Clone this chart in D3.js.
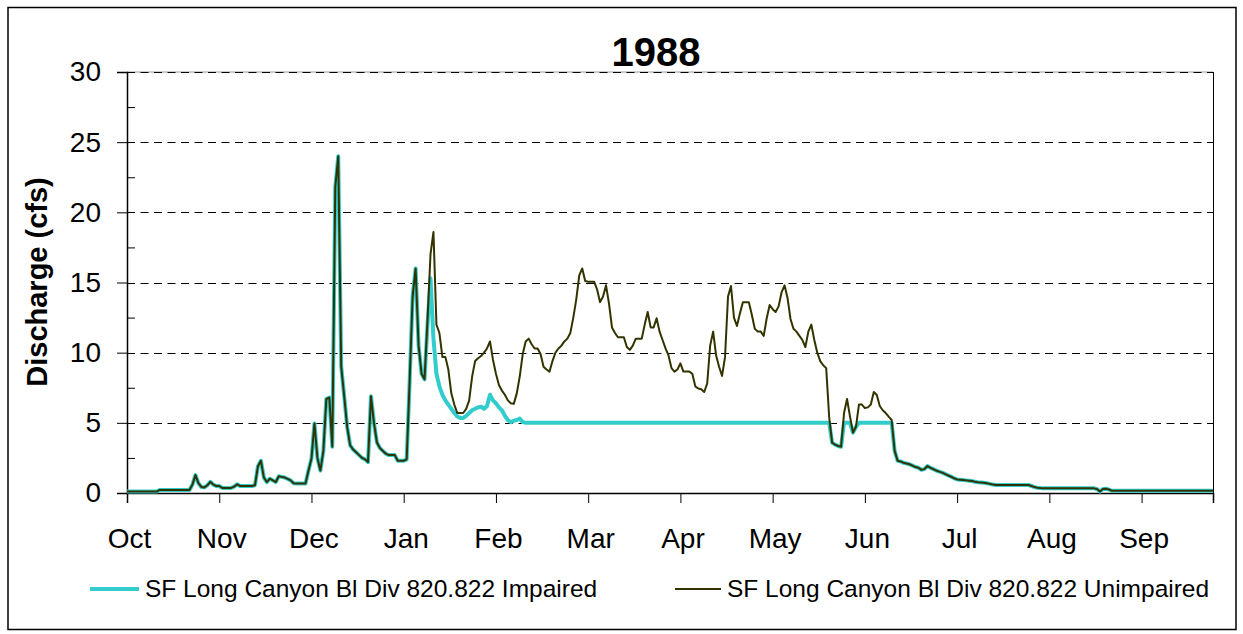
<!DOCTYPE html>
<html>
<head>
<meta charset="utf-8">
<script src="https://cdn.jsdelivr.net/npm/d3@7"></script>
<style>
  html, body { margin: 0; padding: 0; background: #ffffff; }
  svg { display: block; font-family: "Liberation Sans", Arial, sans-serif; }
</style>
</head>
<body>
<svg id="chart" width="1243" height="634"></svg>
<script>
// Daily discharge (cfs), water year Oct 1987 - Sep 1988 (366 days)
const unimpaired = [
  0.1,0.1,0.1,0.1,0.1,0.1,0.1,0.1,0.1,0.1,
  0.1,0.22,0.22,0.22,0.22,0.22,0.22,0.22,0.22,0.22,
  0.22,0.22,0.6,1.28,0.7,0.43,0.4,0.55,0.8,0.6,
  0.5,0.5,0.36,0.36,0.36,0.36,0.45,0.62,0.5,0.5,
  0.5,0.5,0.5,0.55,1.9,2.3,1.1,0.78,1.02,0.9,
  0.78,1.19,1.15,1.1,1.0,0.9,0.7,0.67,0.67,0.67,
  0.67,1.6,2.45,4.95,2.5,1.6,3.0,6.7,6.8,3.3,
  21.8,24.0,9.0,6.9,4.7,3.4,3.1,2.9,2.7,2.5,
  2.4,2.2,6.9,5.0,3.6,3.2,3.0,2.8,2.7,2.7,
  2.7,2.3,2.3,2.3,2.4,8.0,14.0,16.0,10.5,8.5,
  8.1,12.3,17.0,18.6,12.0,11.4,9.7,9.7,8.8,7.1,
  6.3,5.7,5.7,5.7,6.0,6.6,8.3,9.4,9.6,9.76,
  10.0,10.3,10.8,9.5,8.5,7.7,7.3,7.0,6.6,6.4,
  6.35,7.1,8.3,9.9,10.8,11.0,10.6,10.3,10.3,9.9,
  9.0,8.8,8.65,9.4,10.0,10.3,10.5,10.8,11.0,11.4,
  12.5,13.8,15.5,16.0,15.1,15.06,15.06,15.06,14.5,13.6,
  14.0,14.8,13.5,11.8,11.4,11.1,11.1,11.1,10.4,10.2,
  10.5,11.0,11.0,11.0,12.0,12.9,11.8,11.8,12.45,11.5,
  10.9,10.3,9.8,8.9,8.65,8.8,9.24,8.65,8.65,8.65,
  8.5,7.6,7.45,7.4,7.2,7.8,10.5,11.5,9.8,9.0,
  8.34,9.7,14.0,14.75,12.5,11.9,12.8,13.6,13.6,13.6,
  12.7,11.7,11.5,11.5,11.2,12.45,13.4,13.1,12.9,13.3,
  14.3,14.8,13.9,12.4,11.7,11.5,11.2,10.9,10.4,11.5,
  12.0,10.9,10.0,9.4,9.1,8.9,5.4,3.58,3.45,3.35,
  3.3,5.7,6.7,5.44,4.3,4.72,6.3,6.3,6.05,6.1,
  6.3,7.2,6.98,6.2,5.9,5.7,5.44,5.2,3.0,2.3,
  2.25,2.15,2.1,2.05,1.95,1.85,1.8,1.65,1.7,1.92,
  1.8,1.7,1.6,1.52,1.45,1.35,1.25,1.16,1.05,0.97,
  0.95,0.93,0.9,0.88,0.85,0.8,0.77,0.75,0.73,0.7,
  0.65,0.6,0.57,0.57,0.57,0.57,0.57,0.57,0.57,0.57,
  0.57,0.57,0.57,0.57,0.5,0.42,0.38,0.35,0.33,0.33,
  0.33,0.33,0.33,0.33,0.33,0.33,0.33,0.33,0.33,0.33,
  0.33,0.33,0.33,0.33,0.33,0.33,0.28,0.1,0.28,0.3,
  0.25,0.16,0.16,0.16,0.16,0.16,0.16,0.16,0.16,0.16,
  0.16,0.16,0.16,0.16,0.16,0.16,0.16,0.16,0.16,0.16,
  0.16,0.16,0.16,0.16,0.16,0.16,0.16,0.16,0.16,0.16,
  0.16,0.16,0.16,0.16,0.16,0.16
];

const impaired = [
  0.1,0.1,0.1,0.1,0.1,0.1,0.1,0.1,0.1,0.1,
  0.1,0.22,0.22,0.22,0.22,0.22,0.22,0.22,0.22,0.22,
  0.22,0.22,0.6,1.28,0.7,0.43,0.4,0.55,0.8,0.6,
  0.5,0.5,0.36,0.36,0.36,0.36,0.45,0.62,0.5,0.5,
  0.5,0.5,0.5,0.55,1.9,2.3,1.1,0.78,1.02,0.9,
  0.78,1.19,1.15,1.1,1.0,0.9,0.7,0.67,0.67,0.67,
  0.67,1.6,2.45,4.95,2.5,1.6,3.0,6.7,6.8,3.3,
  21.8,24.0,9.0,6.9,4.7,3.4,3.1,2.9,2.7,2.5,
  2.4,2.2,6.9,5.0,3.6,3.2,3.0,2.8,2.7,2.7,
  2.7,2.3,2.3,2.3,2.4,8.0,14.0,16.0,10.5,8.5,
  8.1,12.0,15.3,11.0,8.5,7.6,7.0,6.6,6.3,6.0,
  5.7,5.45,5.35,5.35,5.5,5.7,5.9,6.0,6.1,6.15,
  6.0,6.2,7.0,6.6,6.4,6.1,5.9,5.5,5.2,5.05,
  5.15,5.2,5.3,5.05,5,5,5,5,5,5,
  5,5,5,5,5,5,5,5,5,5,
  5,5,5,5,5,5,5,5,5,5,
  5,5,5,5,5,5,5,5,5,5,
  5,5,5,5,5,5,5,5,5,5,
  5,5,5,5,5,5,5,5,5,5,
  5,5,5,5,5,5,5,5,5,5,
  5,5,5,5,5,5,5,5,5,5,
  5,5,5,5,5,5,5,5,5,5,
  5,5,5,5,5,5,5,5,5,5,
  5,5,5,5,5,5,5,3.58,3.45,3.35,
  3.3,5,5,5,4.3,4.72,5,5,5,5,
  5,5,5,5,5,5,5,5,3.0,2.3,
  2.25,2.15,2.1,2.05,1.95,1.85,1.8,1.65,1.7,1.92,
  1.8,1.7,1.6,1.52,1.45,1.35,1.25,1.16,1.05,0.97,
  0.95,0.93,0.9,0.88,0.85,0.8,0.77,0.75,0.73,0.7,
  0.65,0.6,0.57,0.57,0.57,0.57,0.57,0.57,0.57,0.57,
  0.57,0.57,0.57,0.57,0.5,0.42,0.38,0.35,0.33,0.33,
  0.33,0.33,0.33,0.33,0.33,0.33,0.33,0.33,0.33,0.33,
  0.33,0.33,0.33,0.33,0.33,0.33,0.28,0.1,0.28,0.3,
  0.25,0.16,0.16,0.16,0.16,0.16,0.16,0.16,0.16,0.16,
  0.16,0.16,0.16,0.16,0.16,0.16,0.16,0.16,0.16,0.16,
  0.16,0.16,0.16,0.16,0.16,0.16,0.16,0.16,0.16,0.16,
  0.16,0.16,0.16,0.16,0.16,0.16
];

const monthLabels = ["Oct","Nov","Dec","Jan","Feb","Mar","Apr","May","Jun","Jul","Aug","Sep"];
const yTicks = [0, 5, 10, 15, 20, 25, 30];
const yMinorTicks = [2.5, 7.5, 12.5, 17.5, 22.5, 27.5];
const seriesNames = ["SF Long Canyon Bl Div 820.822 Impaired", "SF Long Canyon Bl Div 820.822 Unimpaired"];
const titleText = "1988";
const yTitle = "Discharge (cfs)";

const svg = d3.select("#chart");
const W = 1243, H = 634;
const plot = { left: 127, right: 1213, top: 72, bottom: 493 };

// outer chart frame
svg.append("rect")
  .attr("x", 8).attr("y", 7.5).attr("width", 1228).attr("height", 622)
  .attr("fill", "#fff").attr("stroke", "#000").attr("stroke-width", 1.5);

const x = d3.scaleLinear().domain([0, unimpaired.length - 1]).range([plot.left, plot.right]);
const y = d3.scaleLinear().domain([0, 30]).range([plot.bottom, plot.top]);

// horizontal dashed gridlines
svg.append("line")
  .attr("x1", plot.left).attr("x2", plot.right)
  .attr("y1", y(30)).attr("y2", y(30))
  .attr("stroke", "#9a9a9a").attr("stroke-width", 1);
svg.append("g").selectAll("line")
  .data(yTicks.filter(d => d > 0))
  .join("line")
  .attr("x1", plot.left).attr("x2", plot.right)
  .attr("y1", d => Math.round(y(d)) + 0.5).attr("y2", d => Math.round(y(d)) + 0.5)
  .attr("stroke", "#000").attr("stroke-width", 1)
  .attr("stroke-dasharray", "8,5.5");

// right edge of the plot area
svg.append("line")
  .attr("x1", plot.right + 0.5).attr("x2", plot.right + 0.5)
  .attr("y1", plot.top).attr("y2", plot.bottom)
  .attr("stroke", "#000").attr("stroke-width", 1);

// y axis with major ticks outside and minor ticks inside
const yAxis = svg.append("g")
  .attr("transform", `translate(${plot.left},0)`)
  .call(d3.axisLeft(y).tickValues(yTicks).tickSize(10).tickPadding(16).tickFormat(d3.format("d")));
yAxis.select(".domain").attr("stroke", "#000").attr("stroke-width", 1.5);
yAxis.selectAll(".tick line").attr("stroke", "#000");
yAxis.selectAll("text").attr("font-size", 28).attr("fill", "#000")
  .attr("font-family", "'Liberation Sans', Arial, sans-serif");

const yMinor = svg.append("g")
  .attr("transform", `translate(${plot.left},0)`)
  .call(d3.axisRight(y).tickValues(yMinorTicks).tickSize(8).tickFormat(""));
yMinor.select(".domain").remove();
yMinor.selectAll(".tick line").attr("stroke", "#000");

// x axis: a tick every 31 days, labelled with month names
const xTickValues = d3.range(0, 366, 31);
const xAxis = svg.append("g")
  .attr("transform", `translate(0,${plot.bottom})`)
  .call(d3.axisBottom(x).tickValues(xTickValues).tickSize(10).tickPadding(25)
    .tickFormat((d, i) => monthLabels[i]));
xAxis.select(".domain").attr("stroke", "#000").attr("stroke-width", 1.5);
xAxis.selectAll(".tick line").attr("stroke", "#000");
xAxis.selectAll("text").attr("font-size", 28).attr("fill", "#000")
  .attr("dx", 2)
  .attr("font-family", "'Liberation Sans', Arial, sans-serif");

// flow lines
const line = d3.line()
  .x((d, i) => x(i))
  .y(d => y(d));

svg.append("path")
  .datum(impaired)
  .attr("d", line)
  .attr("fill", "none")
  .attr("stroke", "#33CCCC")
  .attr("stroke-width", 4)
  .attr("stroke-linejoin", "round");

svg.append("path")
  .datum(unimpaired)
  .attr("d", line)
  .attr("fill", "none")
  .attr("stroke", "#333300")
  .attr("stroke-width", 2)
  .attr("stroke-linejoin", "round");

// title
svg.append("text")
  .attr("x", 656).attr("y", 66)
  .attr("text-anchor", "middle")
  .attr("font-size", 40).attr("font-weight", "bold")
  .text(titleText);

// y axis title
svg.append("text")
  .attr("transform", `translate(47,282) rotate(-90)`)
  .attr("text-anchor", "middle")
  .attr("font-size", 29).attr("font-weight", "bold")
  .text(yTitle);

// legend
const legend = svg.append("g");
const legendItems = [
  { name: seriesNames[0], color: "#33CCCC", width: 4, x0: 90, x1: 139, tx: 145 },
  { name: seriesNames[1], color: "#333300", width: 2, x0: 675, x1: 721, tx: 727 }
];
legendItems.forEach(it => {
  legend.append("line")
    .attr("x1", it.x0).attr("x2", it.x1).attr("y1", 589).attr("y2", 589)
    .attr("stroke", it.color).attr("stroke-width", it.width);
  legend.append("text")
    .attr("x", it.tx).attr("y", 597)
    .attr("font-size", 24.5)
    .text(it.name);
});
</script>
</body>
</html>
